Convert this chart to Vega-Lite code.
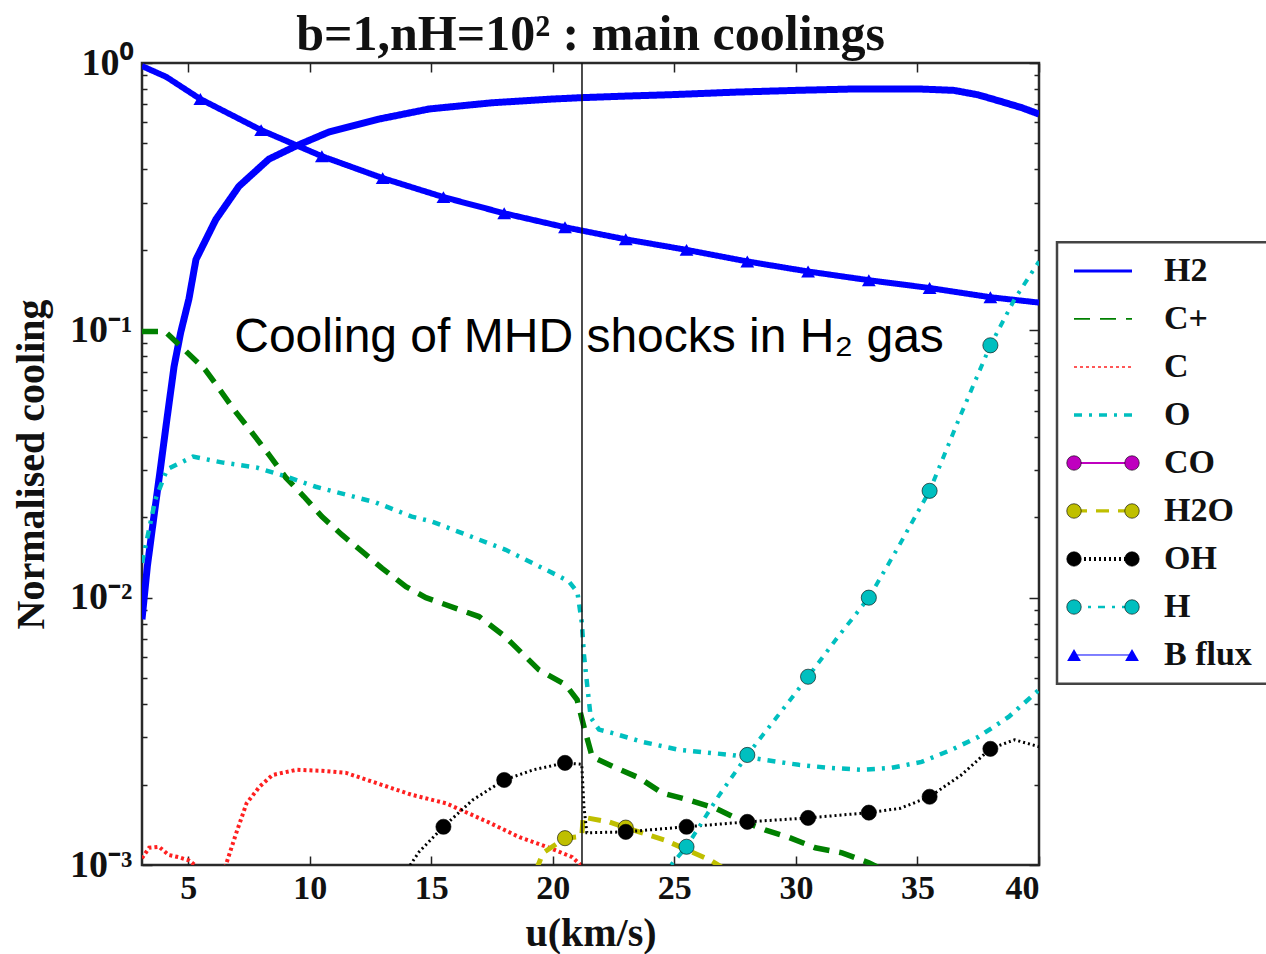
{
  "$schema": "https://vega.github.io/schema/vega-lite/v6.json",
  "padding": {"left": 10, "top": 8, "right": 0, "bottom": 0},
  "spacing": 14,
  "config": {
    "font": "Liberation Serif",
    "view": {"stroke": "#2a2a2a", "strokeWidth": 2.5},
    "axis": {"labelFont": "Liberation Serif", "labelFontWeight": "bold", "labelFontSize": 34, "labelColor": "#111", "titleFont": "Liberation Serif", "titleFontWeight": "bold", "titleFontSize": 40, "titleColor": "#111", "domain": false, "grid": false, "tickColor": "#222", "tickWidth": 1.5},
    "title": {"font": "Liberation Serif", "fontWeight": "bold", "fontSize": 50, "color": "#111"}
  },
  "datasets": {
    "curves": [
      {"series": "H2", "u": 3.1, "v": 0.0083}, {"series": "H2", "u": 3.32, "v": 0.0131}, {"series": "H2", "u": 3.59, "v": 0.0201}, {"series": "H2", "u": 3.87, "v": 0.031}, {"series": "H2", "u": 4.14, "v": 0.0476}, {"series": "H2", "u": 4.42, "v": 0.0733}, {"series": "H2", "u": 4.69, "v": 0.098}, {"series": "H2", "u": 5.03, "v": 0.131}, {"series": "H2", "u": 5.32, "v": 0.184}, {"series": "H2", "u": 6.14, "v": 0.26}, {"series": "H2", "u": 7.09, "v": 0.346}, {"series": "H2", "u": 8.32, "v": 0.437}, {"series": "H2", "u": 9.43, "v": 0.489}, {"series": "H2", "u": 10.79, "v": 0.552}, {"series": "H2", "u": 12.85, "v": 0.617}, {"series": "H2", "u": 14.91, "v": 0.673}, {"series": "H2", "u": 17.5, "v": 0.71}, {"series": "H2", "u": 19.97, "v": 0.733}, {"series": "H2", "u": 21.2, "v": 0.742}, {"series": "H2", "u": 23, "v": 0.752}, {"series": "H2", "u": 25, "v": 0.762}, {"series": "H2", "u": 27.5, "v": 0.778}, {"series": "H2", "u": 30, "v": 0.79}, {"series": "H2", "u": 32.5, "v": 0.8}, {"series": "H2", "u": 35, "v": 0.8}, {"series": "H2", "u": 36.5, "v": 0.79}, {"series": "H2", "u": 37.5, "v": 0.76}, {"series": "H2", "u": 38.5, "v": 0.715}, {"series": "H2", "u": 39.3, "v": 0.68}, {"series": "H2", "u": 40, "v": 0.644},
      {"series": "B flux", "u": 3.1, "v": 0.974}, {"series": "B flux", "u": 4.1, "v": 0.887}, {"series": "B flux", "u": 5.5, "v": 0.733}, {"series": "B flux", "u": 8, "v": 0.561}, {"series": "B flux", "u": 10.5, "v": 0.448}, {"series": "B flux", "u": 13, "v": 0.371}, {"series": "B flux", "u": 15.5, "v": 0.315}, {"series": "B flux", "u": 18, "v": 0.274}, {"series": "B flux", "u": 20.5, "v": 0.243}, {"series": "B flux", "u": 23, "v": 0.219}, {"series": "B flux", "u": 25.5, "v": 0.2}, {"series": "B flux", "u": 28, "v": 0.181}, {"series": "B flux", "u": 30.5, "v": 0.166}, {"series": "B flux", "u": 33, "v": 0.154}, {"series": "B flux", "u": 35.5, "v": 0.144}, {"series": "B flux", "u": 38, "v": 0.133}, {"series": "B flux", "u": 40, "v": 0.127},
      {"series": "C+", "u": 3.1, "v": 0.099}, {"series": "C+", "u": 4.05, "v": 0.099}, {"series": "C+", "u": 4.76, "v": 0.086}, {"series": "C+", "u": 5.69, "v": 0.0715}, {"series": "C+", "u": 6.3, "v": 0.06}, {"series": "C+", "u": 6.97, "v": 0.0493}, {"series": "C+", "u": 7.62, "v": 0.0415}, {"series": "C+", "u": 8.32, "v": 0.0343}, {"series": "C+", "u": 9.02, "v": 0.0281}, {"series": "C+", "u": 9.76, "v": 0.0239}, {"series": "C+", "u": 10.5, "v": 0.0201}, {"series": "C+", "u": 11.32, "v": 0.0172}, {"series": "C+", "u": 12.15, "v": 0.0149}, {"series": "C+", "u": 12.97, "v": 0.0129}, {"series": "C+", "u": 13.96, "v": 0.011}, {"series": "C+", "u": 14.78, "v": 0.01}, {"series": "C+", "u": 16.96, "v": 0.0085}, {"series": "C+", "u": 18.0, "v": 0.0072}, {"series": "C+", "u": 19.43, "v": 0.00537}, {"series": "C+", "u": 20.53, "v": 0.00472}, {"series": "C+", "u": 21.0, "v": 0.00415}, {"series": "C+", "u": 21.28, "v": 0.00329}, {"series": "C+", "u": 21.62, "v": 0.00254}, {"series": "C+", "u": 22.59, "v": 0.00231}, {"series": "C+", "u": 23.54, "v": 0.00212}, {"series": "C+", "u": 24.5, "v": 0.00186}, {"series": "C+", "u": 25.6, "v": 0.00175}, {"series": "C+", "u": 26.7, "v": 0.00163}, {"series": "C+", "u": 27.65, "v": 0.00148}, {"series": "C+", "u": 28.76, "v": 0.00135}, {"series": "C+", "u": 29.7, "v": 0.00127}, {"series": "C+", "u": 30.8, "v": 0.00116}, {"series": "C+", "u": 31.9, "v": 0.00111}, {"series": "C+", "u": 33.0, "v": 0.00102}, {"series": "C+", "u": 34.0, "v": 0.00092},
      {"series": "C", "u": 3.1, "v": 0.00106}, {"series": "C", "u": 3.39, "v": 0.00116}, {"series": "C", "u": 3.8, "v": 0.00117}, {"series": "C", "u": 4.2, "v": 0.00109}, {"series": "C", "u": 4.6, "v": 0.00107}, {"series": "C", "u": 5.03, "v": 0.00104}, {"series": "C", "u": 5.4, "v": 0.00098}, {"series": "C", "u": 5.9, "v": 0.0007}, {"series": "C", "u": 6.55, "v": 0.001}, {"series": "C", "u": 6.98, "v": 0.00132}, {"series": "C", "u": 7.4, "v": 0.0017}, {"series": "C", "u": 7.93, "v": 0.00196}, {"series": "C", "u": 8.46, "v": 0.00217}, {"series": "C", "u": 9.45, "v": 0.00227}, {"series": "C", "u": 10.5, "v": 0.00225}, {"series": "C", "u": 11.5, "v": 0.00221}, {"series": "C", "u": 12.57, "v": 0.00205}, {"series": "C", "u": 14.2, "v": 0.00183}, {"series": "C", "u": 15.62, "v": 0.0017}, {"series": "C", "u": 17.39, "v": 0.00144}, {"series": "C", "u": 18.63, "v": 0.00127}, {"series": "C", "u": 19.86, "v": 0.00116}, {"series": "C", "u": 20.8, "v": 0.00107}, {"series": "C", "u": 21.2, "v": 0.00099},
      {"series": "O", "u": 3.1, "v": 0.0135}, {"series": "O", "u": 3.39, "v": 0.018}, {"series": "O", "u": 3.65, "v": 0.0233}, {"series": "O", "u": 4.13, "v": 0.0302}, {"series": "O", "u": 5.2, "v": 0.0337}, {"series": "O", "u": 6.43, "v": 0.032}, {"series": "O", "u": 7.8, "v": 0.0307}, {"series": "O", "u": 9.02, "v": 0.0284}, {"series": "O", "u": 10.25, "v": 0.026}, {"series": "O", "u": 11.48, "v": 0.0243}, {"series": "O", "u": 12.72, "v": 0.0227}, {"series": "O", "u": 14.2, "v": 0.0201}, {"series": "O", "u": 15.0, "v": 0.0193}, {"series": "O", "u": 18.06, "v": 0.0151}, {"series": "O", "u": 20.12, "v": 0.0122}, {"series": "O", "u": 20.66, "v": 0.0115}, {"series": "O", "u": 21.01, "v": 0.0105}, {"series": "O", "u": 21.19, "v": 0.0081}, {"series": "O", "u": 21.28, "v": 0.00612}, {"series": "O", "u": 21.42, "v": 0.00465}, {"series": "O", "u": 21.56, "v": 0.00356}, {"series": "O", "u": 21.9, "v": 0.00321}, {"series": "O", "u": 22.43, "v": 0.00312}, {"series": "O", "u": 23.67, "v": 0.00289}, {"series": "O", "u": 25.15, "v": 0.0027}, {"series": "O", "u": 27.35, "v": 0.00258}, {"series": "O", "u": 28.76, "v": 0.00247}, {"series": "O", "u": 30.12, "v": 0.00237}, {"series": "O", "u": 31.35, "v": 0.00231}, {"series": "O", "u": 32.71, "v": 0.00227}, {"series": "O", "u": 33.94, "v": 0.00231}, {"series": "O", "u": 35.17, "v": 0.00243}, {"series": "O", "u": 36.41, "v": 0.0027}, {"series": "O", "u": 37.52, "v": 0.00302}, {"series": "O", "u": 38.75, "v": 0.00358}, {"series": "O", "u": 40, "v": 0.00452},
      {"series": "H2O", "u": 19.3, "v": 0.00095}, {"series": "H2O", "u": 19.6, "v": 0.00111}, {"series": "H2O", "u": 20.5, "v": 0.00126}, {"series": "H2O", "u": 21.19, "v": 0.00128}, {"series": "H2O", "u": 21.25, "v": 0.00152}, {"series": "H2O", "u": 21.4, "v": 0.0015}, {"series": "H2O", "u": 22.3, "v": 0.00145}, {"series": "H2O", "u": 23, "v": 0.00138}, {"series": "H2O", "u": 23.54, "v": 0.00133}, {"series": "H2O", "u": 24.6, "v": 0.00124}, {"series": "H2O", "u": 26.5, "v": 0.00104}, {"series": "H2O", "u": 27.2, "v": 0.00095},
      {"series": "OH", "u": 13.9, "v": 0.00093}, {"series": "OH", "u": 14.5, "v": 0.00112}, {"series": "OH", "u": 15.5, "v": 0.00139}, {"series": "OH", "u": 16.7, "v": 0.00175}, {"series": "OH", "u": 18, "v": 0.00208}, {"series": "OH", "u": 19.2, "v": 0.00227}, {"series": "OH", "u": 20.5, "v": 0.00241}, {"series": "OH", "u": 21.19, "v": 0.00238}, {"series": "OH", "u": 21.28, "v": 0.00165}, {"series": "OH", "u": 21.4, "v": 0.00132}, {"series": "OH", "u": 23, "v": 0.00133}, {"series": "OH", "u": 25.5, "v": 0.00139}, {"series": "OH", "u": 28, "v": 0.00145}, {"series": "OH", "u": 30.5, "v": 0.0015}, {"series": "OH", "u": 33, "v": 0.00157}, {"series": "OH", "u": 34.3, "v": 0.00163}, {"series": "OH", "u": 35.5, "v": 0.0018}, {"series": "OH", "u": 36.8, "v": 0.00217}, {"series": "OH", "u": 38, "v": 0.00272}, {"series": "OH", "u": 39, "v": 0.00294}, {"series": "OH", "u": 40, "v": 0.00277},
      {"series": "H", "u": 24.6, "v": 0.0009}, {"series": "H", "u": 24.86, "v": 0.001}, {"series": "H", "u": 25.5, "v": 0.00117}, {"series": "H", "u": 26.8, "v": 0.0018}, {"series": "H", "u": 28, "v": 0.00258}, {"series": "H", "u": 29.2, "v": 0.00356}, {"series": "H", "u": 30.5, "v": 0.00506}, {"series": "H", "u": 31.7, "v": 0.00708}, {"series": "H", "u": 33, "v": 0.01}, {"series": "H", "u": 34.2, "v": 0.0154}, {"series": "H", "u": 35.5, "v": 0.0251}, {"series": "H", "u": 36.7, "v": 0.0464}, {"series": "H", "u": 38, "v": 0.0879}, {"series": "H", "u": 39, "v": 0.131}, {"series": "H", "u": 40, "v": 0.181}
    ],
    "legend": [
      {"series": "H2", "k": 0}, {"series": "C+", "k": 1}, {"series": "C", "k": 2}, {"series": "O", "k": 3}, {"series": "CO", "k": 4}, {"series": "H2O", "k": 5}, {"series": "OH", "k": 6}, {"series": "H", "k": 7}, {"series": "B flux", "k": 8}
    ]
  },
  "hconcat": [
    {
      "width": 897,
      "height": 802,
      "title": {"text": "b=1,nH=10² : main coolings", "offset": -16},
      "resolve": {"axis": {"x": "independent", "y": "independent"}},
      "layer": [
        {
          "data": {"name": "curves"},
          "mark": {"type": "line", "clip": true, "strokeCap": "butt"},
          "encoding": {
            "x": {"field": "u", "type": "quantitative", "scale": {"domain": [3.1, 40], "nice": false, "zero": false}, "axis": {"orient": "bottom", "values": [5, 10, 15, 20, 25, 30, 35, 40], "title": "u(km/s)", "tickSize": -9, "labelPadding": 15, "titlePadding": 8}},
            "y": {"field": "v", "type": "quantitative", "scale": {"type": "log", "domain": [0.001, 1], "nice": false}, "axis": {"orient": "left", "values": [0.001, 0.01, 0.1, 1], "labelExpr": "datum.value >= 0.99 ? '10⁰' : datum.value >= 0.099 ? '10⁻¹' : datum.value >= 0.0099 ? '10⁻²' : '10⁻³'", "labelFontSize": 38, "title": "Normalised cooling", "tickSize": -10, "labelPadding": 20, "titlePadding": 18}},
            "color": {"field": "series", "type": "nominal", "scale": {"domain": ["H2", "C+", "C", "O", "CO", "H2O", "OH", "H", "B flux"], "range": ["#0000ff", "#008000", "#ff2020", "#00bfbf", "#bf00bf", "#bfbf00", "#000000", "#00bfbf", "#0000ff"]}, "legend": null},
            "strokeDash": {"field": "series", "type": "nominal", "scale": {"domain": ["H2", "C+", "C", "O", "CO", "H2O", "OH", "H", "B flux"], "range": [[1, 0], [16, 10], [3, 3], [8, 7, 3, 7], [1, 0], [13, 9], [2, 3], [7, 7, 3, 7], [1, 0]]}, "legend": null},
            "strokeWidth": {"field": "series", "type": "nominal", "scale": {"type": "ordinal", "domain": ["H2", "C+", "C", "O", "CO", "H2O", "OH", "H", "B flux"], "range": [7, 5.5, 4, 4.5, 3, 5, 3, 4, 6]}, "legend": null}
          }
        },
        {
          "data": {"name": "curves"},
          "transform": [{"filter": "(datum.series == 'OH' || datum.series == 'H' || datum.series == 'H2O') && datum.u > 4 && abs((datum.u - 3) % 2.5) < 0.001"}],
          "mark": {"type": "point", "filled": true, "size": 230, "stroke": "#000", "strokeWidth": 1, "strokeOpacity": 0.6, "opacity": 1, "clip": true},
          "encoding": {
            "x": {"field": "u", "type": "quantitative", "axis": {"orient": "top", "values": [5, 10, 15, 20, 25, 30, 35, 40], "labels": false, "title": null, "tickSize": -9}},
            "y": {"field": "v", "type": "quantitative", "axis": {"orient": "right", "values": [0.001, 0.01, 0.1, 1], "labels": false, "title": null, "tickSize": -10}},
            "color": {"field": "series", "type": "nominal", "legend": null}
          }
        },
        {
          "data": {"name": "curves"},
          "transform": [{"filter": "datum.series == 'B flux' && datum.u > 4 && abs((datum.u - 3) % 2.5) < 0.001"}],
          "mark": {"type": "point", "shape": "triangle-up", "filled": true, "size": 190, "opacity": 1, "clip": true},
          "encoding": {
            "x": {"field": "u", "type": "quantitative", "axis": null},
            "y": {"field": "v", "type": "quantitative", "axis": {"orient": "right", "values": [0.002, 0.003, 0.004, 0.005, 0.006, 0.007, 0.008, 0.009, 0.02, 0.03, 0.04, 0.05, 0.06, 0.07, 0.08, 0.09, 0.2, 0.3, 0.4, 0.5, 0.6, 0.7, 0.8, 0.9], "labels": false, "title": null, "tickSize": -5}},
            "color": {"field": "series", "type": "nominal", "legend": null}
          }
        },
        {
          "data": {"values": [{}]},
          "mark": {"type": "rule", "color": "#111", "strokeWidth": 1.5},
          "encoding": {"x": {"datum": 21.2, "axis": null}}
        },
        {
          "data": {"values": [{}]},
          "mark": {"type": "text", "font": "Liberation Sans", "fontSize": 48, "color": "#000", "align": "center", "baseline": "middle"},
          "encoding": {
            "x": {"datum": 21.49, "axis": null},
            "y": {"datum": 0.094, "axis": {"orient": "left", "values": [0.002, 0.003, 0.004, 0.005, 0.006, 0.007, 0.008, 0.009, 0.02, 0.03, 0.04, 0.05, 0.06, 0.07, 0.08, 0.09, 0.2, 0.3, 0.4, 0.5, 0.6, 0.7, 0.8, 0.9], "labels": false, "title": null, "tickSize": -5}},
            "text": {"value": "Cooling of MHD shocks in H₂ gas"}
          }
        }
      ]
    },
    {
      "width": 215,
      "height": 802,
      "view": {"stroke": null},
      "data": {"name": "legend"},
      "layer": [
        {
          "data": {"values": [{}]},
          "mark": {"type": "rect", "fill": "#fff", "stroke": "#444", "strokeWidth": 2.5},
          "encoding": {
            "x": {"datum": 0, "scale": {"domain": [0, 10.75], "nice": false, "zero": false}, "axis": null},
            "x2": {"datum": 11},
            "y": {"datum": -0.6, "scale": {"domain": [-4.333, 12.375], "reverse": true, "nice": false, "zero": false}, "axis": null},
            "y2": {"datum": 8.6}
          }
        },
        {
          "mark": {"type": "rule", "strokeCap": "butt"},
          "encoding": {
            "x": {"datum": 0.85},
            "x2": {"datum": 3.75},
            "y": {"field": "k", "type": "quantitative"},
            "color": {"field": "series", "type": "nominal", "legend": null},
            "strokeDash": {"field": "series", "type": "nominal", "legend": null},
            "strokeWidth": {"field": "series", "type": "nominal", "legend": null}
          }
        },
        {
          "transform": [{"filter": "datum.series == 'CO' || datum.series == 'H2O' || datum.series == 'OH' || datum.series == 'H'"}],
          "mark": {"type": "point", "filled": true, "size": 210, "stroke": "#000", "strokeWidth": 1, "strokeOpacity": 0.6, "opacity": 1},
          "encoding": {"x": {"datum": 0.85}, "y": {"field": "k", "type": "quantitative"}, "color": {"field": "series", "type": "nominal", "legend": null}}
        },
        {
          "transform": [{"filter": "datum.series == 'CO' || datum.series == 'H2O' || datum.series == 'OH' || datum.series == 'H'"}],
          "mark": {"type": "point", "filled": true, "size": 210, "stroke": "#000", "strokeWidth": 1, "strokeOpacity": 0.6, "opacity": 1},
          "encoding": {"x": {"datum": 3.75}, "y": {"field": "k", "type": "quantitative"}, "color": {"field": "series", "type": "nominal", "legend": null}}
        },
        {
          "transform": [{"filter": "datum.series == 'B flux'"}],
          "mark": {"type": "point", "shape": "triangle-up", "filled": true, "size": 190, "opacity": 1},
          "encoding": {"x": {"datum": 0.85}, "y": {"field": "k", "type": "quantitative"}, "color": {"field": "series", "type": "nominal", "legend": null}}
        },
        {
          "transform": [{"filter": "datum.series == 'B flux'"}],
          "mark": {"type": "point", "shape": "triangle-up", "filled": true, "size": 190, "opacity": 1},
          "encoding": {"x": {"datum": 3.75}, "y": {"field": "k", "type": "quantitative"}, "color": {"field": "series", "type": "nominal", "legend": null}}
        },
        {
          "mark": {"type": "text", "align": "left", "baseline": "middle", "font": "Liberation Serif", "fontWeight": "bold", "fontSize": 34, "color": "#111"},
          "encoding": {"x": {"datum": 5.35}, "y": {"field": "k", "type": "quantitative"}, "text": {"field": "series"}}
        }
      ]
    }
  ]
}
